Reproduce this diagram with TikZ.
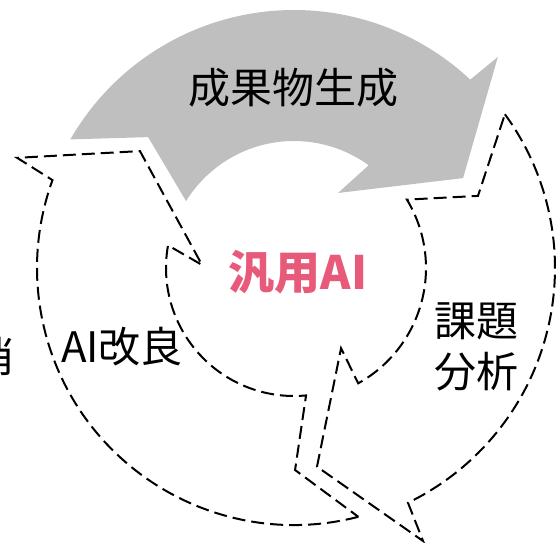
\documentclass[tikz,border=0pt]{standalone}
\usepackage{fontspec}
\setmainfont{Noto Sans CJK JP}
\definecolor{aipink}{RGB}{231,90,122}
\tikzset{
	cyclearrow/.style = {line join=miter},
	filled/.style = {cyclearrow, fill=black!25, draw=none},
	outlined/.style = {cyclearrow, draw=black, dash pattern=on 13pt off 6pt, line width=2pt},
	steplabel/.style = {align=center, inner sep=0pt, font=\fontsize{42}{51}\selectfont},
	centerlabel/.style = {inner sep=0pt, text=aipink, font=\fontsize{46}{50}\selectfont\bfseries}
}

\begin{document}
\begin{tikzpicture}[x=1pt, y=1pt]
\useasboundingbox (-294,-274) rectangle (262,268);
\clip (-294,-274) rectangle (262,268);
% top arrow
\path [filled] (150.1:258) arc [start angle=150.1, end angle=46.9, radius=258]
	-- (46:293.5) -- (28:191.5) -- (59.6:87) -- (54:127)
	arc [start angle=54, end angle=148.2, radius=127] -- (138.1:196) -- cycle;
% right arrow
\draw [outlined] (36.1:261) arc [start angle=36.1, end angle=-64.1, radius=261]
	-- (-64.7:302) -- (-83.4:200) -- (-59.6:93) -- (-60.9:132)
	arc [start angle=-60.9, end angle=31.2, radius=132] -- (21.4:197.6) -- cycle;
% left arrow
\draw [outlined] (-75.5:257) arc [start angle=-75.5, end angle=-200, radius=257]
	-- (158.3:298) -- (142.8:193.4) -- (178.1:92) -- (169.8:128)
	arc [start angle=169.8, end angle=275.4, radius=128] -- (-89.7:202) -- cycle;
% labels
\node [steplabel] (make) at (-1,180) {成果物生成};
\node [centerlabel] (ai) at (4,-4) {汎用AI};
\node [steplabel] (improve) at (-172,-79) {AI改良};
\node [steplabel] (analyze) at (182,-78.5) {課題\\分析};
\node [steplabel] (cut) at (-300,-89) {消};
\end{tikzpicture}
\end{document}
